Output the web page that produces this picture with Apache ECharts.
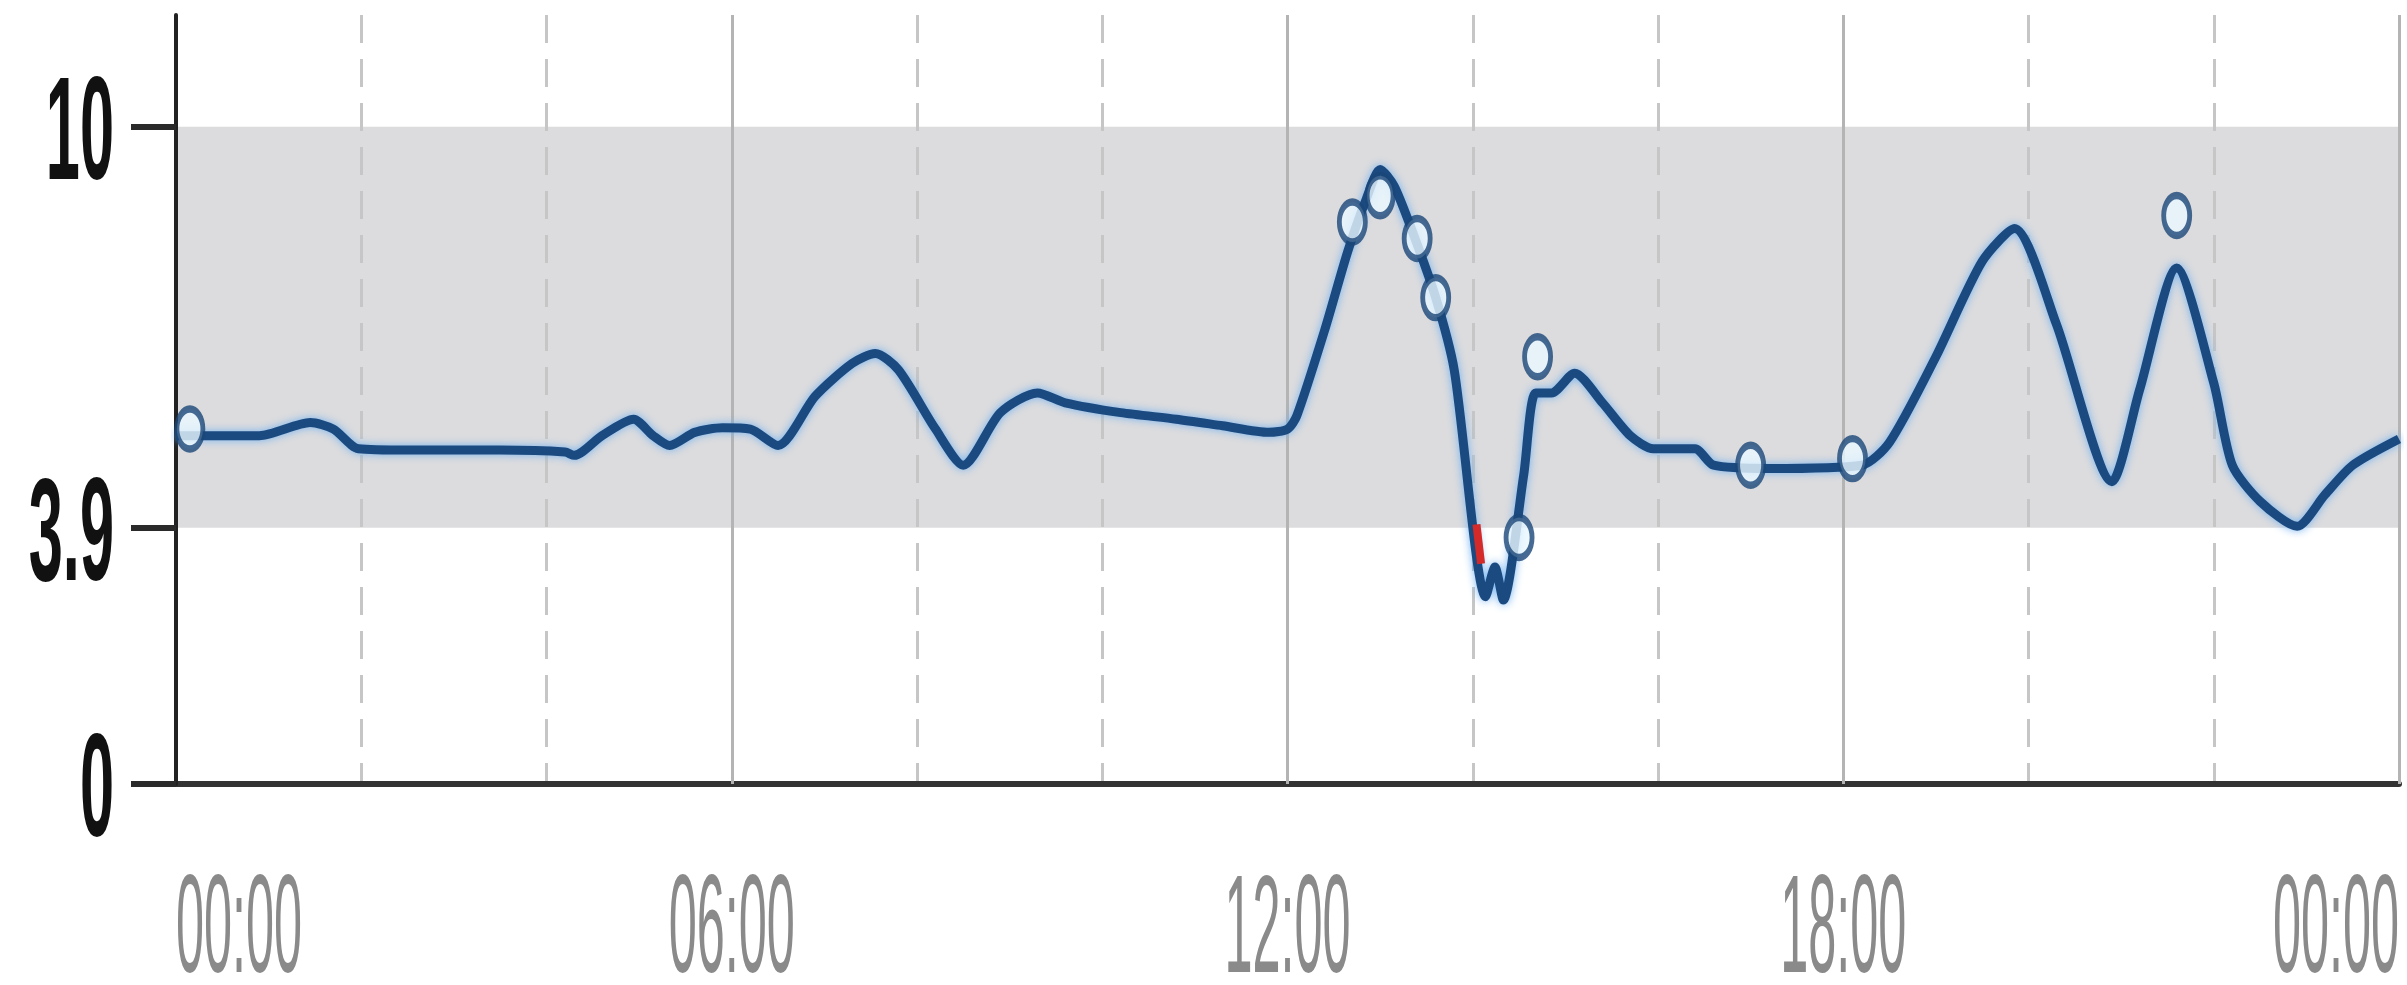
<!DOCTYPE html>
<html>
<head>
<meta charset="utf-8">
<script src="https://cdn.jsdelivr.net/npm/echarts@6/dist/echarts.min.js"></script>
<style>
html,body{margin:0;padding:0;background:#fff;}
#chart{width:2407px;height:985px;}
</style>
</head>
<body>
<div id="chart"></div>
<script>
// ---- data ----
const xMin = 0, xMax = 24, yMin = 0, yMax = 11.7;
const xTickValues = [0, 6, 12, 18, 24];
const xTickLabels = ['00:00', '06:00', '12:00', '18:00', '00:00'];
const yTickValues = [0, 3.9, 10];
const yTickLabels = ['0', '3.9', '10'];
const bandLow = 3.9, bandHigh = 10;

const cgmHours = [0.0, 0.3, 0.9, 1.45, 1.7, 1.97, 2.5, 3.5, 4.2, 4.3, 4.6, 4.94, 5.15, 5.33, 5.6, 5.9, 6.2, 6.5, 6.9, 7.3, 7.55, 7.8, 8.2, 8.5, 8.9, 9.3, 9.6, 10.2, 10.8, 11.3, 11.8, 12.0, 12.1, 12.4, 12.65, 12.85, 13.0, 13.15, 13.35, 13.6, 13.8, 14.14, 14.24, 14.33, 14.55, 14.68, 14.85, 15.1, 15.4, 15.7, 15.95, 16.4, 16.6, 17.2, 18.2, 18.5, 19.0, 19.5, 19.85, 20.3, 20.9, 21.2, 21.6, 22.0, 22.2, 22.5, 22.9, 23.2, 23.5, 24.0];
const cgmValues = [5.3, 5.3, 5.3, 5.5, 5.4, 5.1, 5.08, 5.08, 5.05, 5.0, 5.3, 5.55, 5.3, 5.15, 5.35, 5.42, 5.4, 5.15, 5.9, 6.4, 6.55, 6.3, 5.4, 4.85, 5.65, 5.95, 5.8, 5.65, 5.55, 5.45, 5.35, 5.4, 5.6, 6.9, 8.1, 8.9, 9.35, 9.1, 8.4, 7.4, 6.3, 2.85, 3.3, 2.8, 4.7, 5.95, 5.95, 6.25, 5.8, 5.3, 5.1, 5.1, 4.85, 4.8, 4.85, 5.2, 6.5, 7.95, 8.45, 7.0, 4.6, 6.0, 7.85, 6.1, 4.85, 4.3, 3.92, 4.4, 4.85, 5.25];

const meterHours = [0.15, 12.7, 13.0, 13.4, 13.6, 14.5, 14.7, 17.0, 18.1, 21.6];
const meterValues = [5.4, 8.55, 8.95, 8.3, 7.4, 3.75, 6.5, 4.85, 4.95, 8.65];

const lowHours = [14.04, 14.09];
const lowValues = [3.95, 3.35];

// ---- chart ----
const chart = echarts.init(document.getElementById('chart'));
const zip = (a, b) => a.map((v, i) => [v, b[i]]);

const option = {
  animation: false,
  backgroundColor: '#ffffff',
  grid: { left: 176, right: 8, top: 15, bottom: 201, containLabel: false },
  xAxis: [
    {
      type: 'value', min: xMin, max: xMax, interval: 2, z: 1, position: 'bottom',
      axisLine: { show: true, onZero: false, lineStyle: { color: '#333333', width: 6 } },
      axisTick: { show: false },
      axisLabel: { show: false },
      splitLine: { show: true, lineStyle: { color: '#c6c6c6', width: 3, type: [28, 16] } }
    },
    {
      type: 'value', min: xMin, max: xMax, interval: 6, z: 2, position: 'bottom',
      axisLine: { show: false },
      axisTick: { show: false },
      axisLabel: { show: false },
      splitLine: { show: true, lineStyle: { color: '#b4b4b4', width: 3, type: 'solid' } }
    }
  ],
  yAxis: {
    type: 'value', min: yMin, max: yMax, z: 2,
    axisLine: { show: true, onZero: false, lineStyle: { color: '#222222', width: 4 } },
    axisTick: { show: true, customValues: yTickValues, length: 45, lineStyle: { color: '#2a2a2a', width: 6 } },
    axisLabel: { show: false },
    splitLine: { show: false }
  },
  series: [
    {
      name: 'band', type: 'line', z: 0, silent: true,
      data: [[xMin, bandHigh], [xMax, bandHigh]],
      symbol: 'none',
      lineStyle: { width: 0, opacity: 0 },
      areaStyle: { color: '#dcdcde', opacity: 1, origin: bandLow }
    },
    {
      name: 'cgm', type: 'line', z: 3, silent: true,
      data: zip(cgmHours, cgmValues),
      showSymbol: false, symbol: 'none',
      smooth: 0.25,
      lineStyle: { color: '#1b4a80', width: 9, shadowColor: 'rgba(110,175,240,0.95)', shadowBlur: 9 }
    },
    {
      name: 'low', type: 'line', z: 4, silent: true,
      data: zip(lowHours, lowValues),
      symbol: 'none',
      lineStyle: { color: '#d42a2a', width: 8 }
    },
    {
      name: 'meter', type: 'scatter', z: 5, silent: true,
      data: zip(meterHours, meterValues),
      symbol: 'circle', symbolSize: [26, 40],
      itemStyle: { color: '#eaf8ff', borderColor: '#1a4678', borderWidth: 6 }
    }
  ]
};
chart.setOption(option);

// axis tick labels (condensed, as in the reference) placed with the chart's own scales
const graphics = [];
xTickValues.forEach((v, i) => {
  const p = chart.convertToPixel({ gridIndex: 0 }, [v, 0]);
  graphics.push({
    type: 'text', silent: true, x: p[0], y: 933, scaleX: 0.36, scaleY: 1,
    style: {
      text: xTickLabels[i], fontSize: 140, fontFamily: 'Liberation Sans, Arial, sans-serif',
      fill: '#8a8a8a',
      align: i === 0 ? 'left' : (i === xTickValues.length - 1 ? 'right' : 'center'),
      verticalAlign: 'middle'
    }
  });
});
yTickValues.forEach((v, i) => {
  const p = chart.convertToPixel({ gridIndex: 0 }, [0, v]);
  graphics.push({
    type: 'text', silent: true, x: p[0] - 62, y: p[1] + 12, scaleX: 0.42, scaleY: 1,
    style: {
      text: yTickLabels[i], fontSize: 146, fontWeight: 'bold',
      fontFamily: 'Liberation Sans, Arial, sans-serif',
      fill: '#111111', align: 'right', verticalAlign: 'middle'
    }
  });
});
chart.setOption({ graphic: graphics });
</script>
</body>
</html>
